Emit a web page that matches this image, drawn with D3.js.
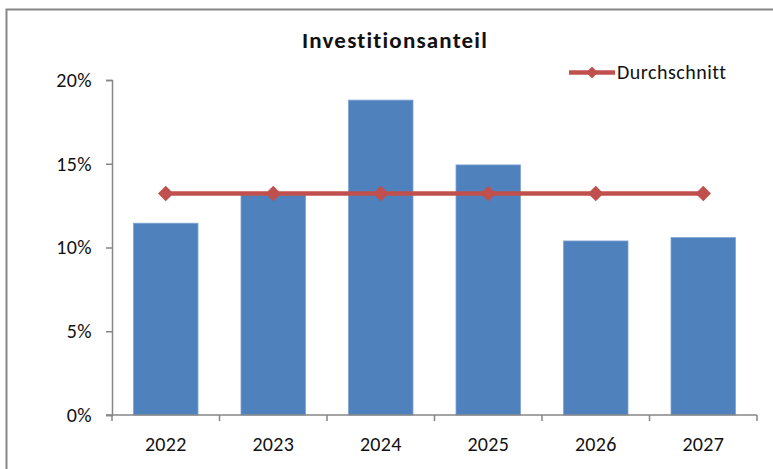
<!DOCTYPE html>
<html><head><meta charset="utf-8">
<script src="https://cdn.jsdelivr.net/npm/d3@7"></script>
<style>body{margin:0;background:#fff}svg{display:block}text{font-family:Carlito,Lato,sans-serif;fill:#111;font-variant-ligatures:none}</style>
</head><body>
<svg id="c" width="773" height="469"></svg>
<script>
const categories = ["2022","2023","2024","2025","2026","2027"];
const investValues = [0.1145, 0.1313, 0.188, 0.1493, 0.1039, 0.1059];
const averageValues = [0.1322, 0.1322, 0.1322, 0.1322, 0.1322, 0.1322];
const yTicks = [0, 0.05, 0.10, 0.15, 0.20];
const titleText = "Investitionsanteil";
const legendText = "Durchschnitt";

const svg = d3.select("#c");
svg.append("rect").attr("x",6.5).attr("y",9.5).attr("width",820).attr("height",520)
  .attr("fill","#fff").attr("stroke","#878787").attr("stroke-width",2);

const pLeft=112, pRight=757, pTop=80, pBottom=415;
const x = d3.scaleBand().domain(categories).range([pLeft,pRight]).paddingInner(0.4).paddingOuter(0.2);
const y = d3.scaleLinear().domain([0,0.2]).range([pBottom,pTop]);

// bars
svg.append("g").selectAll("rect").data(categories).join("rect")
  .attr("x",d=>x(d)).attr("width",x.bandwidth())
  .attr("y",(d,i)=>y(investValues[i])).attr("height",(d,i)=>pBottom-y(investValues[i]))
  .attr("fill","#4F81BD").attr("stroke","#7DA2D2").attr("stroke-width",0.8);

// axes
const yAxis = d3.axisLeft(y).tickValues(yTicks).tickFormat(d3.format(".0%")).tickSize(6).tickPadding(14);
const gy = svg.append("g").attr("transform",`translate(${pLeft},0)`).call(yAxis);
gy.select(".domain").attr("stroke","#868686").attr("stroke-width",1.5);
gy.selectAll(".tick line").attr("stroke","#868686").attr("stroke-width",1.5);
gy.selectAll(".tick text").attr("font-size",20).attr("letter-spacing",0.4)
  .attr("font-family","Carlito,Lato,sans-serif").attr("fill","#111");

const xBounds = d3.scaleLinear().domain([0,categories.length]).range([pLeft,pRight]);
const gx = svg.append("g").attr("transform",`translate(0,${pBottom})`);
gx.append("line").attr("x1",pLeft-6).attr("x2",pRight).attr("stroke","#868686").attr("stroke-width",1.5);
gx.selectAll("line.t").data(d3.range(categories.length+1)).join("line").attr("class","t")
  .attr("x1",d=>xBounds(d)).attr("x2",d=>xBounds(d)).attr("y1",0).attr("y2",6)
  .attr("stroke","#868686").attr("stroke-width",1.5);
gx.selectAll("text").data(categories).join("text")
  .attr("x",d=>x(d)+x.bandwidth()/2).attr("y",36).attr("text-anchor","middle")
  .attr("font-size",20).attr("letter-spacing",0.3).text(d=>d);

// line
const cx = d=>x(d)+x.bandwidth()/2;
const line = d3.line().x((d,i)=>cx(categories[i])).y(d=>y(d));
svg.append("path").datum(averageValues).attr("d",line).attr("fill","none")
  .attr("stroke","#C0504D").attr("stroke-width",4.5);
svg.append("g").selectAll("path").data(averageValues).join("path")
  .attr("d",d3.symbol().type(d3.symbolSquare).size(120))
  .attr("transform",(d,i)=>`translate(${cx(categories[i])},${y(d)}) rotate(45)`)
  .attr("fill","#C0504D");

// legend
const lg = svg.append("g");
lg.append("line").attr("x1",569).attr("x2",615).attr("y1",72.5).attr("y2",72.5)
  .attr("stroke","#C0504D").attr("stroke-width",4.5);
lg.append("path").attr("d",d3.symbol().type(d3.symbolSquare).size(70)).attr("transform","translate(592,72.5) rotate(45)").attr("fill","#C0504D");
lg.append("text").attr("x",617).attr("y",79).attr("font-size",20).attr("letter-spacing",0.5).text(legendText);

// title
svg.append("text").attr("x",395).attr("y",48).attr("text-anchor","middle")
  .attr("font-size",23).attr("letter-spacing",1.2).attr("font-weight","bold").text(titleText);
</script>
</body></html>
